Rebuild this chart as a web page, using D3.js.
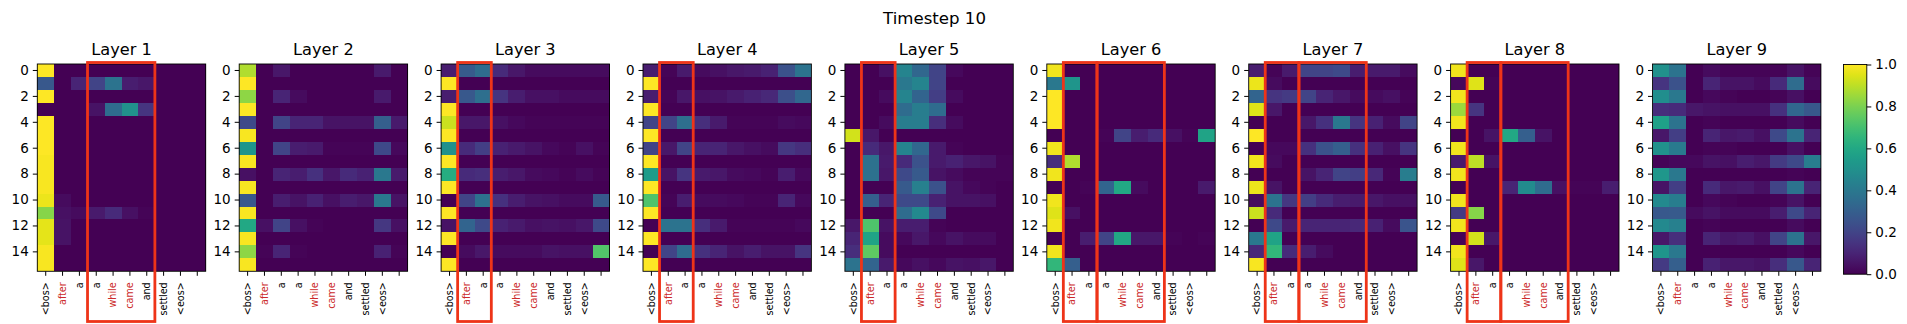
<!DOCTYPE html>
<html>
<head>
<meta charset="utf-8">
<script src="https://cdnjs.cloudflare.com/ajax/libs/d3/7.8.5/d3.min.js"></script>
<style>
    html, body { margin: 0; padding: 0; background: #fff; }
    svg { display: block; }
    text { font-family: "DejaVu Sans", sans-serif; fill: #000; }
</style>
</head>
<body>
<div id="chart"></div>
<script>
//Data
var tokens = ["<bos>", "after", "a", "a", "while", "came", "and", "settled", "<eos>", ""];
var redTokens = [1, 4, 5];
var yTicks = [0, 2, 4, 6, 8, 10, 12, 14];
var colorTicks = [0, 0.2, 0.4, 0.6, 0.8, 1];

var layer1 = [
    [1, 0, 0, 0, 0, 0, 0, 0, 0, 0],
    [.27, 0, .1, .2, .38, .08, .06, 0, 0, 0],
    [1, 0, 0, 0, 0, 0, 0, 0, 0, 0],
    [0, 0, 0, .05, .35, .5, .15, 0, 0, 0],
    [1, 0, 0, 0, 0, 0, 0, 0, 0, 0],
    [1, 0, 0, 0, 0, 0, 0, 0, 0, 0],
    [1, 0, 0, 0, 0, 0, 0, 0, 0, 0],
    [.99, 0, 0, 0, 0, 0, 0, 0, 0, 0],
    [.99, 0, 0, 0, 0, 0, 0, 0, 0, 0],
    [.99, 0, 0, 0, 0, 0, 0, 0, 0, 0],
    [.97, .03, 0, 0, 0, 0, 0, 0, 0, 0],
    [.82, .04, .03, .07, .12, .04, .01, 0, 0, 0],
    [.96, .05, 0, 0, 0, 0, 0, 0, 0, 0],
    [.96, .05, 0, 0, 0, 0, 0, 0, 0, 0],
    [.99, 0, 0, 0, 0, 0, 0, 0, 0, 0],
    [.99, 0, 0, 0, 0, 0, 0, 0, 0, 0]
];
var layer2 = [
    [.88, 0, .06, 0, 0, 0, 0, 0, .07, 0],
    [1, 0, 0, 0, 0, 0, 0, 0, 0, 0],
    [.83, 0, .1, .03, 0, 0, 0, 0, .07, 0],
    [1, 0, 0, 0, 0, 0, 0, 0, 0, 0],
    [.22, 0, .2, .1, .1, .05, .05, .05, .3, .07],
    [.99, 0, 0, 0, 0, 0, 0, 0, 0, 0],
    [.52, 0, .2, .08, .07, .01, .01, .01, .22, .02],
    [.99, 0, 0, 0, 0, 0, 0, 0, 0, 0],
    [.04, 0, .1, .08, .14, .06, .12, .09, .4, .07],
    [.99, 0, 0, 0, 0, 0, 0, 0, 0, 0],
    [.27, 0, .08, .05, .09, .04, .08, .06, .4, .05],
    [.99, 0, 0, 0, 0, 0, 0, 0, 0, 0],
    [.6, .04, .2, .04, .01, 0, 0, 0, .16, .04],
    [.99, 0, 0, 0, 0, 0, 0, 0, 0, 0],
    [.83, .01, .1, .01, 0, 0, 0, 0, .09, .01],
    [.99, 0, 0, 0, 0, 0, 0, 0, 0, 0]
];
var layer3 = [
    [.08, .28, .35, .12, .06, .03, .03, .03, .03, .03],
    [1, 0, 0, 0, 0, 0, 0, 0, 0, 0],
    [.08, .27, .36, .15, .08, .04, .04, .03, .03, .03],
    [1, 0, 0, 0, 0, 0, 0, 0, 0, 0],
    [.92, .06, .06, .04, .02, .01, .01, .01, .01, .01],
    [1, 0, 0, 0, 0, 0, 0, 0, 0, 0],
    [.5, .12, .18, .09, .07, .05, .02, .01, .04, .01],
    [1, 0, 0, 0, 0, 0, 0, 0, 0, 0],
    [.62, .12, .13, .08, .06, .03, .02, .01, .03, .01],
    [1, 0, 0, 0, 0, 0, 0, 0, 0, 0],
    [0, .2, .37, .14, .08, .05, .04, .03, .03, .28],
    [1, 0, 0, 0, 0, 0, 0, 0, 0, 0],
    [.05, .32, .22, .09, .07, .04, .05, .04, .06, .22],
    [1, 0, 0, 0, 0, 0, 0, 0, 0, 0],
    [0, .03, .06, .03, .03, .03, .05, .04, .04, .73],
    [1, 0, 0, 0, 0, 0, 0, 0, 0, 0]
];
var layer4 = [
    [.08, .01, .07, .03, .04, .06, .07, .09, .25, .38],
    [1, 0, 0, 0, 0, 0, 0, 0, 0, 0],
    [.08, .01, .06, .04, .05, .07, .09, .11, .24, .33],
    [1, 0, 0, 0, 0, 0, 0, 0, 0, 0],
    [.2, .2, .36, .13, .07, .01, .01, .01, .03, .02],
    [1, 0, 0, 0, 0, 0, 0, 0, 0, 0],
    [.2, .06, .2, .1, .1, .06, .04, .03, .16, .13],
    [1, 0, 0, 0, 0, 0, 0, 0, 0, 0],
    [.55, .05, .15, .07, .06, .03, .02, .01, .08, .02],
    [1, 0, 0, 0, 0, 0, 0, 0, 0, 0],
    [.72, .01, .08, .03, .03, .02, .01, .01, .1, .02],
    [1, 0, 0, 0, 0, 0, 0, 0, 0, 0],
    [0, .38, .38, .13, .07, .01, .01, .01, .01, .02],
    [1, 0, 0, 0, 0, 0, 0, 0, 0, 0],
    [0, .2, .35, .14, .1, .05, .08, .05, .05, .15],
    [1, 0, 0, 0, 0, 0, 0, 0, 0, 0]
];
var layer5 = [
    [0, 0, .04, .45, .33, .2, .02, 0, 0, 0],
    [0, 0, 0, .4, .45, .2, 0, 0, 0, 0],
    [0, 0, .03, .45, .32, .18, .03, 0, 0, 0],
    [0, 0, 0, .35, .42, .35, 0, 0, 0, 0],
    [0, 0, .03, .42, .42, .13, .03, 0, 0, 0],
    [.93, .06, 0, 0, 0, 0, 0, 0, 0, 0],
    [0, .12, .06, .45, .33, .07, .01, 0, 0, 0],
    [0, .37, .07, .12, .25, .07, .09, .06, .05, .01],
    [0, .37, .06, .22, .28, .05, .03, .01, .01, .01],
    [0, 0, 0, .28, .43, .25, .05, .02, .01, 0],
    [0, .3, .1, .22, .22, .09, .05, .05, .04, 0],
    [0, 0, 0, .35, .47, .22, 0, 0, 0, 0],
    [.06, .72, .05, .08, .08, .01, 0, 0, 0, 0],
    [.1, .58, .03, .02, .06, .02, .05, .03, .03, 0],
    [.13, .75, .03, 0, 0, 0, 0, 0, 0, 0],
    [.38, .32, .07, .02, .04, .02, .05, .04, .06, 0]
];
var layer6 = [
    [.98, 0, 0, 0, 0, 0, 0, 0, 0, 0],
    [.4, .52, 0, 0, 0, 0, 0, 0, 0, 0],
    [1, 0, 0, 0, 0, 0, 0, 0, 0, 0],
    [1, 0, 0, 0, 0, 0, 0, 0, 0, 0],
    [1, 0, 0, 0, 0, 0, 0, 0, 0, 0],
    [0, 0, 0, .01, .2, .08, .12, .04, .01, .58],
    [.98, 0, 0, 0, 0, 0, 0, 0, 0, 0],
    [.13, .88, 0, 0, 0, 0, 0, 0, 0, 0],
    [.98, 0, 0, 0, 0, 0, 0, 0, 0, 0],
    [0, 0, .01, .32, .6, .03, 0, 0, 0, .07],
    [.98, 0, 0, 0, 0, 0, 0, 0, 0, 0],
    [.95, .04, 0, 0, 0, 0, 0, 0, 0, 0],
    [.98, 0, 0, 0, 0, 0, 0, 0, 0, 0],
    [0, 0, .08, .2, .6, .06, .06, .01, 0, .01],
    [.98, 0, 0, 0, 0, 0, 0, 0, 0, 0],
    [.66, .3, 0, 0, 0, 0, 0, 0, 0, 0]
];
var layer7 = [
    [.08, .01, .07, .2, .2, .22, .08, .07, .07, .03],
    [.97, .03, 0, 0, 0, 0, 0, 0, 0, 0],
    [.32, .15, .17, .2, .1, .06, .03, .03, .04, .01],
    [.95, .06, 0, 0, 0, 0, 0, 0, 0, 0],
    [0, 0, 0, .06, .14, .4, .15, .09, .03, .2],
    [1, 0, 0, 0, 0, 0, 0, 0, 0, 0],
    [0, .02, .02, .14, .25, .3, .14, .09, .04, .15],
    [.98, .03, 0, 0, 0, 0, 0, 0, 0, 0],
    [0, 0, 0, .05, .1, .2, .18, .11, .01, .42],
    [.97, .05, 0, 0, 0, 0, 0, 0, 0, 0],
    [.03, .38, .16, .18, .12, .08, .07, .06, .04, .04],
    [.92, .12, 0, 0, 0, 0, 0, 0, 0, 0],
    [0, .22, .07, .1, .1, .1, .11, .09, .03, .26],
    [.4, .58, 0, 0, 0, 0, 0, 0, 0, 0],
    [.11, .66, .12, .08, .03, 0, 0, 0, 0, 0],
    [.99, 0, 0, 0, 0, 0, 0, 0, 0, 0]
];
var layer8 = [
    [.98, 0, 0, 0, 0, 0, 0, 0, 0, 0],
    [.02, .95, .01, 0, 0, 0, 0, 0, 0, 0],
    [.98, 0, 0, 0, 0, 0, 0, 0, 0, 0],
    [.85, .15, 0, 0, 0, 0, 0, 0, 0, 0],
    [.98, 0, 0, 0, 0, 0, 0, 0, 0, 0],
    [0, 0, .05, .6, .3, .05, 0, 0, 0, 0],
    [.98, 0, 0, 0, 0, 0, 0, 0, 0, 0],
    [.07, .9, .05, 0, 0, 0, 0, 0, 0, 0],
    [.98, 0, 0, 0, 0, 0, 0, 0, 0, 0],
    [0, 0, 0, .1, .48, .35, .04, .01, .01, .08],
    [.98, 0, 0, 0, 0, 0, 0, 0, 0, 0],
    [.17, .82, 0, 0, 0, 0, 0, 0, 0, 0],
    [.98, 0, 0, 0, 0, 0, 0, 0, 0, 0],
    [.01, .93, .06, 0, 0, 0, 0, 0, 0, 0],
    [.98, 0, 0, 0, 0, 0, 0, 0, 0, 0],
    [.95, .06, 0, 0, 0, 0, 0, 0, 0, 0]
];
var layer9 = [
    [.5, .38, 0, .03, .01, .01, .01, .01, .05, .01],
    [.15, .25, 0, .1, .05, .05, .03, .12, .35, .03],
    [.49, .4, 0, .02, .01, 0, 0, .01, .04, 0],
    [.13, .12, .06, .05, .04, .04, .04, .14, .33, .27],
    [.57, .38, 0, .01, 0, 0, 0, 0, .03, 0],
    [.06, .18, 0, .1, .06, .07, .04, .22, .38, .1],
    [.5, .41, 0, .01, .01, 0, 0, 0, .04, 0],
    [.01, .02, .02, .05, .04, .08, .06, .17, .22, .42],
    [.53, .4, 0, 0, 0, 0, 0, 0, .01, 0],
    [.05, .18, 0, .12, .06, .07, .04, .2, .38, .1],
    [.47, .42, 0, .02, .01, 0, 0, .01, .05, 0],
    [.27, .28, .03, .05, .03, .03, .03, .08, .22, .1],
    [.47, .43, 0, .01, 0, 0, 0, 0, .03, 0],
    [.06, .13, 0, .1, .06, .07, .04, .2, .38, .06],
    [.52, .4, 0, 0, 0, 0, 0, 0, .02, 0],
    [.17, .3, 0, .09, .06, .06, .05, .13, .27, .1]
];
var layers = [layer1, layer2, layer3, layer4, layer5, layer6, layer7, layer8, layer9];

//Highlighted token ranges for each layer, first and last column
var boxes = [
    [[3, 6]],
    [],
    [[1, 2]],
    [[1, 2]],
    [[1, 2]],
    [[1, 2], [3, 6]],
    [[1, 2], [3, 6]],
    [[1, 2], [3, 6]],
    []
];

//Setup
var SVGwidth = 1907, SVGheight = 324;
var panelLeft = 37.3, panelStep = 201.9, panelWidth = 168.4;
var panelTop = 64, panelHeight = 207.3;
var boxOverTop = 1.5, boxBottom = 321.5;
var box_color = "#ee3418";
var red_label = "#cc2a2a";

var color = d3.scaleSequential(d3.interpolateViridis).domain([0, 1]);

var svg = d3.select("#chart")
    .append("svg")
    .attr("width", SVGwidth)
    .attr("height", SVGheight);

svg.append("text")
    .attr("x", 934.5)
    .attr("y", 24)
    .attr("text-anchor", "middle")
    .style("font-size", "16.6px")
    .text("Timestep 10");

layers.forEach(function (data, i) { renderLayer(data, i); });
renderColorbar();

//Draw one heatmap with its axes and red boxes
function renderLayer(data, index) {
    var x = d3.scaleBand().domain(d3.range(tokens.length)).range([0, panelWidth]);
    var y = d3.scaleBand().domain(d3.range(data.length)).range([0, panelHeight]);

    var g = svg.append("g")
        .attr("transform", `translate(${panelLeft + index * panelStep}, ${panelTop})`);

    g.append("text")
        .attr("x", panelWidth / 2)
        .attr("y", -9)
        .attr("text-anchor", "middle")
        .style("font-size", "16.2px")
        .text("Layer " + (index + 1));

    data.forEach(function (row, r) {
        g.selectAll(null)
            .data(row)
            .enter()
            .append("rect")
            .attr("x", function (d, c) { return x(c); })
            .attr("y", y(r))
            .attr("width", x.bandwidth())
            .attr("height", y.bandwidth())
            .attr("shape-rendering", "crispEdges")
            .attr("fill", function (d) { return color(d); });
    });

    var xAxis = g.append("g")
        .attr("transform", `translate(0, ${panelHeight})`)
        .call(d3.axisBottom(x).tickSizeOuter(0).tickSize(4.5).tickFormat(function (c) { return tokens[c]; }));
    xAxis.select(".domain").remove();
    xAxis.selectAll("text")
        .attr("transform", "rotate(-90)")
        .attr("x", -11)
        .attr("y", 0)
        .attr("dy", "0.35em")
        .attr("text-anchor", "end")
        .style("font-size", "9.6px")
        .style("fill", function (c) { return redTokens.includes(c) ? red_label : "#000"; });

    var yAxis = g.append("g")
        .call(d3.axisLeft(y).tickValues(yTicks).tickSizeOuter(0).tickSize(4.5).tickPadding(4));
    yAxis.select(".domain").remove();
    yAxis.selectAll("text").style("font-size", "13.5px");

    g.append("rect")
        .attr("width", panelWidth)
        .attr("height", panelHeight)
        .attr("fill", "none")
        .attr("stroke", "#000")
        .attr("stroke-width", 0.9);

    boxes[index].forEach(function (b) {
        g.append("rect")
            .attr("x", x(b[0]) - 0.3)
            .attr("y", -boxOverTop)
            .attr("width", x(b[1]) + x.bandwidth() - x(b[0]))
            .attr("height", boxBottom - panelTop + boxOverTop)
            .attr("fill", "none")
            .attr("stroke", box_color)
            .attr("stroke-width", 2.8);
    });
}

//Draw the color scale on the right
function renderColorbar() {
    var barLeft = 1843.5, barTop = 64.5, barWidth = 23.3, barHeight = 209.7;
    var scale = d3.scaleLinear().domain([0, 1]).range([barHeight, 0]);

    var gradient = svg.append("defs").append("linearGradient")
        .attr("id", "viridis")
        .attr("x1", "0").attr("x2", "0")
        .attr("y1", "1").attr("y2", "0");
    gradient.selectAll("stop")
        .data(d3.range(0, 1.01, 0.05))
        .enter()
        .append("stop")
        .attr("offset", function (d) { return d; })
        .attr("stop-color", function (d) { return color(d); });

    var g = svg.append("g").attr("transform", `translate(${barLeft}, ${barTop})`);
    g.append("rect")
        .attr("width", barWidth)
        .attr("height", barHeight)
        .attr("fill", "url(#viridis)")
        .attr("stroke", "#000")
        .attr("stroke-width", 0.9);

    var axis = g.append("g")
        .attr("transform", `translate(${barWidth}, 0)`)
        .call(d3.axisRight(scale).tickValues(colorTicks).tickSizeOuter(0).tickSize(4.5).tickPadding(4).tickFormat(d3.format(".1f")));
    axis.select(".domain").remove();
    axis.selectAll("text").style("font-size", "13.5px");
}
</script>
</body>
</html>
